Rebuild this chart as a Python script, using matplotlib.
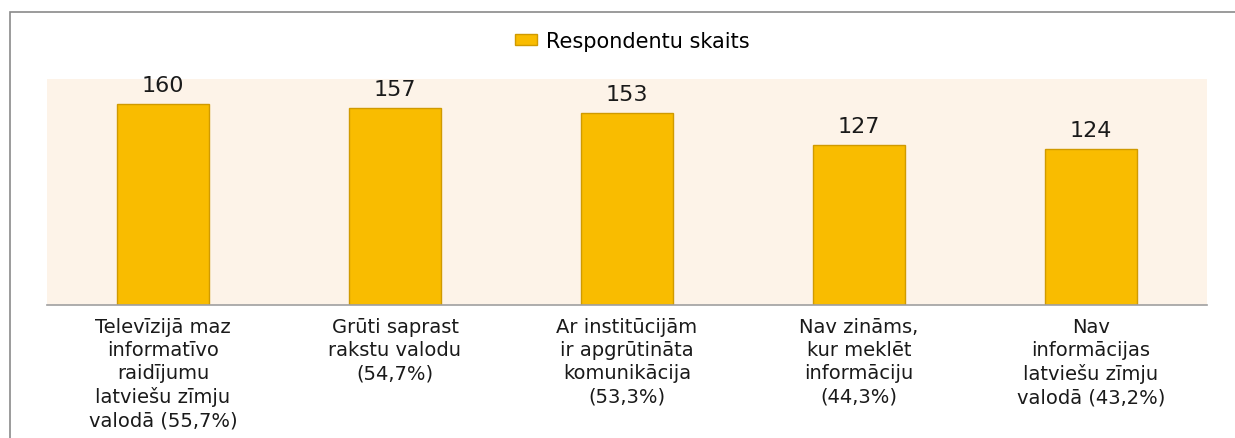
import matplotlib
matplotlib.use("Agg")
import matplotlib.pyplot as plt
from matplotlib.patches import Rectangle

CATEGORIES = [
    "Televīzijā maz\ninformatīvo\nraidījumu\nlatviešu zīmju\nvalodā (55,7%)",
    "Grūti saprast\nrakstu valodu\n(54,7%)",
    "Ar institūcijām\nir apgrūtināta\nkomunikācija\n(53,3%)",
    "Nav zināms,\nkur meklēt\ninformāciju\n(44,3%)",
    "Nav\ninformācijas\nlatviešu zīmju\nvalodā (43,2%)",
]
COUNTS = [160, 157, 153, 127, 124]
SERIES_NAME = "Respondentu skaits"

BAR_COLOR = "#F9BC00"
BAR_EDGE = "#D09A00"
PLOT_BG = "#FDF3E8"

plt.rcParams["font.family"] = ["DejaVu Sans"]

fig = plt.figure(figsize=(12.35, 4.39), dpi=100)
fig.patch.set_facecolor("white")

# outer frame, runs off the right and bottom edge like in the source
fig.add_artist(Rectangle((9.5 / 1235, -0.05), 1.2, 1 - 12.5 / 439 + 0.05,
                         transform=fig.transFigure, fill=False,
                         edgecolor="#8a8a8a", linewidth=1.2))

ax = fig.add_axes([47 / 1235, 1 - 305.5 / 439, 1160 / 1235, 225.5 / 439])
ax.set_facecolor(PLOT_BG)

x = list(range(len(CATEGORIES)))
bars = ax.bar(x, COUNTS, width=0.4, color=BAR_COLOR, edgecolor=BAR_EDGE,
              linewidth=1.0, label=SERIES_NAME, zorder=2)

for bar, value in zip(bars, COUNTS):
    ax.annotate(str(value), (bar.get_x() + bar.get_width() / 2, bar.get_height()),
                textcoords="offset points", xytext=(0, 9.5),
                ha="center", va="baseline", fontsize=16, color="#1a1a1a")

ax.set_xlim(-0.5, len(CATEGORIES) - 0.5)
ax.set_ylim(0, 180)
ax.set_yticks([])
ax.set_xticks(x)
ax.set_xticklabels(CATEGORIES, fontsize=14, color="#1a1a1a", linespacing=1.27)
ax.tick_params(axis="x", length=0, pad=9)

for side in ("top", "left", "right"):
    ax.spines[side].set_visible(False)
ax.spines["bottom"].set_color("#a0a0a0")
ax.spines["bottom"].set_linewidth(1.2)

fig.legend(handles=[bars], labels=[SERIES_NAME], loc="center",
           bbox_to_anchor=(632 / 1235, 1 - 42 / 439), frameon=False,
           fontsize=15, handlelength=1.1, handleheight=0.45, handletextpad=0.4)

fig.savefig("out.png", dpi=100, facecolor="white")
